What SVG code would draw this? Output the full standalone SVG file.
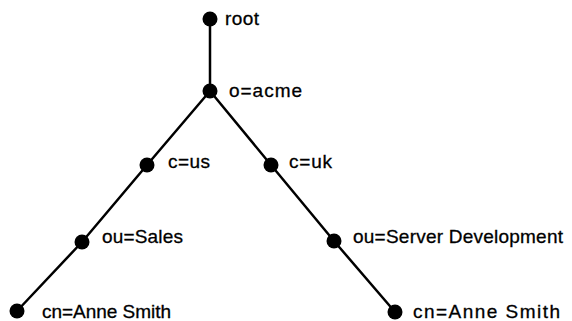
<svg xmlns="http://www.w3.org/2000/svg" width="572" height="321" viewBox="0 0 572 321">
<style>
.n{fill:#000}
.e{stroke:#000;stroke-width:2.5;fill:none;stroke-linecap:round}
.t{font-family:"Liberation Sans",Arial,sans-serif;font-size:19px;fill:#000;stroke:#000;stroke-width:0.3}
</style>
<rect width="572" height="321" fill="#fff"/>
<g id="connectors">
<line class="e" x1="210" y1="19" x2="210" y2="91"/>
<line class="e" x1="210" y1="91" x2="147" y2="165"/>
<line class="e" x1="147" y1="165" x2="82" y2="242"/>
<line class="e" x1="82" y1="242" x2="17" y2="311"/>
<line class="e" x1="210" y1="91" x2="271" y2="165"/>
<line class="e" x1="271" y1="165" x2="334" y2="241"/>
<line class="e" x1="334" y1="241" x2="395" y2="312"/>
</g>
<g id="root"><circle class="n" cx="210" cy="19" r="7.5"/><text class="t" x="225" y="25" textLength="34">root</text></g>
<g id="acme"><circle class="n" cx="210" cy="91" r="7.5"/><text class="t" x="229" y="97" textLength="73">o=acme</text></g>
<g id="us"><circle class="n" cx="147" cy="165" r="7.5"/><text class="t" x="168" y="168" textLength="42">c=us</text></g>
<g id="uk"><circle class="n" cx="271" cy="165" r="7.5"/><text class="t" x="289" y="168" textLength="43">c=uk</text></g>
<g id="sales"><circle class="n" cx="82" cy="242" r="7.5"/><text class="t" x="102" y="243" textLength="81">ou=Sales</text></g>
<g id="serverdev"><circle class="n" cx="334" cy="241" r="7.5"/><text class="t" x="353" y="243" textLength="210">ou=Server Development</text></g>
<g id="cn-left"><circle class="n" cx="17" cy="311" r="7.5"/><text class="t" x="42" y="318" textLength="129">cn=Anne Smith</text></g>
<g id="cn-right"><circle class="n" cx="395" cy="312" r="7.5"/><text class="t" x="413" y="318" textLength="147">cn=Anne Smith</text></g>
</svg>
